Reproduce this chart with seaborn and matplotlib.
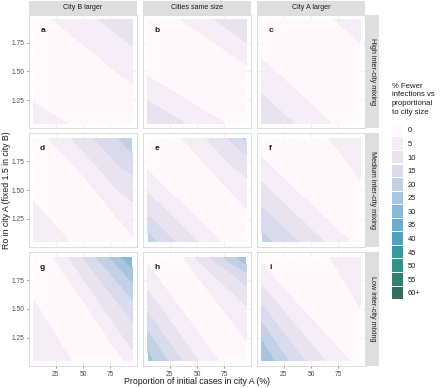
import numpy as np
import matplotlib
matplotlib.use("Agg")
import matplotlib.pyplot as plt
from matplotlib.patches import Patch
import seaborn as sns

# grid of the two model inputs
x_prop = [5, 20, 35, 50, 65, 80, 95]
y_r0 = [1.05, 1.20, 1.35, 1.50, 1.65, 1.80, 1.95]

size_labels = ["City B larger", "Cities same size", "City A larger"]
mixing_labels = ["High inter-city mixing", "Medium inter-city mixing", "Low inter-city mixing"]
panel_letters = ["a", "b", "c", "d", "e", "f", "g", "h", "i"]

band_breaks = [0, 5, 10, 15, 20, 25, 30, 35, 40, 45, 50, 55, 60]
band_labels = ["0", "5", "10", "15", "20", "25", "30", "35", "40", "45", "50", "55", "60+"]
x_ticks = [25, 50, 75]
y_ticks = [1.25, 1.50, 1.75]

# % fewer infections, rows go from y=1.05 (bottom) to y=1.95 (top)
fewer_a = [
    [7.0, 6.0, 5.0, 4.1, 3.1, 2.1, 1.1],
    [5.3, 4.3, 3.3, 2.4, 1.4, 0.4, 2.1],
    [3.7, 2.7, 1.7, 0.8, 0.9, 2.7, 4.4],
    [2.0, 1.0, 0.0, 1.5, 3.2, 5.0, 6.7],
    [0.3, 0.2, 1.9, 3.7, 5.4, 7.2, 8.9],
    [0.8, 2.5, 4.2, 6.0, 7.7, 9.5, 11.2],
    [3.1, 4.8, 6.5, 8.3, 10.0, 11.8, 13.5],
]
fewer_b = [
    [14.5, 12.5, 10.5, 8.4, 6.4, 4.4, 2.4],
    [11.0, 9.0, 7.0, 4.9, 2.9, 0.9, 0.0],
    [7.5, 5.5, 3.4, 1.4, 0.0, 0.0, 0.0],
    [3.9, 1.9, 0.0, 0.0, 0.0, 1.1, 3.6],
    [0.4, 0.0, 0.0, 0.0, 2.3, 4.8, 7.3],
    [0.0, 0.0, 1.2, 3.7, 6.1, 8.6, 11.1],
    [0.0, 2.4, 4.9, 7.4, 9.8, 12.3, 14.8],
]
fewer_c = [
    [14.2, 12.0, 9.9, 7.7, 5.5, 3.3, 1.2],
    [11.7, 9.5, 7.4, 5.2, 3.0, 0.8, 0.0],
    [9.3, 7.1, 4.9, 2.8, 0.6, 0.0, 0.0],
    [6.8, 4.6, 2.5, 0.3, 0.0, 0.0, 1.0],
    [4.3, 2.1, 0.0, 0.0, 0.0, 1.5, 3.4],
    [1.8, 0.0, 0.0, 0.0, 1.9, 3.8, 5.7],
    [0.0, 0.0, 0.3, 2.2, 4.2, 6.1, 8.0],
]
fewer_d = [
    [8.5, 6.9, 5.3, 3.7, 2.1, 0.5, 4.0],
    [7.0, 5.4, 3.8, 2.2, 0.6, 3.5, 6.6],
    [5.5, 3.9, 2.3, 0.7, 2.8, 6.5, 9.1],
    [4.0, 2.4, 0.8, 1.9, 6.0, 9.7, 11.6],
    [2.5, 0.9, 1.9, 5.5, 9.1, 13.0, 15.3],
    [1.0, 1.9, 5.4, 9.0, 12.6, 16.3, 19.5],
    [1.8, 5.4, 8.9, 12.5, 16.1, 19.6, 23.2],
]
fewer_e = [
    [23.0, 17.3, 13.8, 10.2, 6.7, 3.2, 0.0],
    [17.0, 13.5, 10.0, 6.4, 2.9, 0.0, 2.0],
    [13.2, 9.7, 6.1, 2.6, 0.0, 1.9, 5.2],
    [9.3, 5.8, 2.3, 0.0, 1.8, 5.1, 8.4],
    [5.5, 2.0, 0.0, 1.6, 5.0, 8.3, 10.6],
    [1.7, 0.0, 1.5, 4.8, 8.2, 11.5, 14.5],
    [0.0, 1.4, 4.7, 8.0, 11.4, 15.5, 21.5],
]
fewer_f = [
    [22.0, 18.9, 15.7, 12.6, 9.4, 6.3, 3.1],
    [18.5, 15.4, 12.2, 9.1, 5.9, 2.8, 1.5],
    [15.0, 11.9, 8.7, 5.6, 2.4, 1.2, 2.8],
    [11.5, 8.4, 5.2, 2.1, 0.9, 2.5, 4.1],
    [8.0, 4.9, 1.7, 0.6, 2.2, 3.8, 5.4],
    [4.5, 1.4, 0.3, 1.9, 3.5, 5.1, 6.7],
    [1.0, 0.0, 1.6, 3.2, 4.8, 6.4, 8.0],
]
fewer_g = [
    [8.5, 7.0, 5.4, 3.9, 2.4, 2.3, 7.7],
    [7.5, 6.0, 4.4, 2.9, 1.4, 6.2, 11.1],
    [6.5, 5.0, 3.4, 1.9, 4.7, 10.0, 14.0],
    [5.5, 4.0, 2.4, 3.1, 8.6, 13.1, 17.6],
    [4.5, 3.0, 1.6, 7.0, 12.1, 16.8, 21.9],
    [3.5, 2.0, 5.5, 10.9, 16.1, 21.5, 27.5],
    [2.5, 4.0, 9.5, 15.1, 21.1, 27.2, 34.0],
]
fewer_h = [
    [27.0, 21.0, 15.3, 10.3, 6.4, 2.5, 2.1],
    [23.0, 16.8, 11.5, 7.2, 3.3, 1.5, 4.5],
    [18.5, 12.7, 8.1, 4.2, 0.9, 3.9, 7.0],
    [14.0, 9.1, 5.0, 1.0, 3.3, 6.3, 9.4],
    [10.0, 5.9, 1.7, 2.2, 5.9, 9.6, 12.9],
    [6.8, 2.6, 0.3, 5.2, 10.1, 13.8, 19.0],
    [3.5, 0.0, 3.9, 10.7, 15.9, 22.4, 29.0],
]
fewer_i = [
    [29.5, 23.4, 17.7, 13.3, 9.5, 6.2, 2.9],
    [25.6, 19.2, 14.0, 9.9, 6.4, 2.9, 2.6],
    [20.8, 14.9, 10.3, 6.6, 2.9, 1.8, 3.7],
    [16.1, 11.0, 6.8, 3.0, 1.1, 3.0, 4.9],
    [11.2, 7.1, 3.0, 0.4, 2.3, 4.2, 6.1],
    [7.4, 3.0, 0.0, 1.6, 3.5, 5.4, 7.3],
    [3.2, 0.0, 0.9, 2.8, 4.7, 6.6, 8.5],
]
panels = [fewer_a, fewer_b, fewer_c, fewer_d, fewer_e, fewer_f, fewer_g, fewer_h, fewer_i]

sns.set_theme(style="white")
plt.rcParams['font.family'] = ['Liberation Sans', 'DejaVu Sans']

# PuBuGn at alpha 0.8 over white
cmap = sns.color_palette("PuBuGn", as_cmap=True)
raw = cmap(np.linspace(0, 1, len(band_labels)))
fills = [tuple(0.8 * c[:3] + 0.2) for c in raw]

W, H = 440, 388
fig = plt.figure(figsize=(W / 100, H / 100), dpi=100)


def box(x0, y0, w, h):
    return [x0 / W, 1 - (y0 + h) / H, w / W, h / H]


col_x = [29, 143, 257]
row_y = [14.5, 133.3, 252.0]
pw, ph = 108, 113.8
txt = '#1a1a1a'

for k, Z in enumerate(panels):
    r, c = divmod(k, 3)
    ax = fig.add_axes(box(col_x[c], row_y[r], pw, ph))
    ax.set_facecolor('white')
    ax.set_xlim(0.5, 99.5)
    ax.set_ylim(1.005, 1.995)
    ax.set_xticks(x_ticks)
    ax.set_xticks([12.5, 37.5, 62.5, 87.5], minor=True)
    ax.set_yticks(y_ticks)
    ax.set_yticks([1.125, 1.375, 1.625, 1.875], minor=True)
    ax.set_yticklabels(["%.2f" % v for v in y_ticks])
    ax.grid(which='major', color='#ebebeb', lw=0.5)
    ax.grid(which='minor', color='#f3f3f3', lw=0.3)
    ax.set_axisbelow(True)
    ax.contourf(x_prop, y_r0, np.array(Z), levels=band_breaks + [1000], colors=fills, zorder=1)
    ax.text(13, 1.86, panel_letters[k], ha='center', va='center', fontsize=6,
            fontweight='bold', color=txt, zorder=3)
    for s in ax.spines.values():
        s.set_color('#d3d8d8')
        s.set_linewidth(0.6)
    ax.tick_params(which='both', left=False, bottom=False, labelleft=False, labelbottom=False)
    ax.tick_params(which='major', left=(c == 0), bottom=(r == 2), labelleft=(c == 0),
                   labelbottom=(r == 2), length=1.5, width=0.4, color='#333333',
                   labelsize=4.8, labelcolor='#4d4d4d', pad=2)

    if r == 0:
        sx = fig.add_axes(box(col_x[c], 1, pw, 13.5))
        sx.set_facecolor('#dedede')
        sx.set_xticks([]); sx.set_yticks([])
        for s in sx.spines.values():
            s.set_visible(False)
        sx.text(0.5, 0.5, size_labels[c], ha='center', va='center', fontsize=5.1, color=txt)
    if c == 2:
        sy = fig.add_axes(box(366, row_y[r], 13, ph))
        sy.set_facecolor('#dedede')
        sy.set_xticks([]); sy.set_yticks([])
        for s in sy.spines.values():
            s.set_visible(False)
        sy.text(0.5, 0.5, mixing_labels[r], ha='center', va='center', rotation=-90,
                fontsize=5.2, color=txt)

fig.text(197 / W, 1 - 381.5 / H, "Proportion of initial cases in city A (%)",
         ha='center', va='center', fontsize=6.3, color=txt)
fig.text(7 / W, 1 - 190 / H, "Ro in city A (fixed 1.5 in city B)",
         ha='center', va='center', rotation=90, fontsize=6.3, color=txt)

handles = [Patch(facecolor=f, edgecolor='none') for f in fills]
leg = fig.legend(handles, band_labels, title="% Fewer\ninfections vs\nproportional\nto city size",
                 loc='upper left', bbox_to_anchor=(392 / W, 1 - 83 / H), frameon=False,
                 fontsize=5.4, title_fontsize=5.6, handlelength=1.47, handleheight=2.19,
                 labelspacing=0.14, handletextpad=0.65, borderaxespad=0, borderpad=0,
                 alignment='left')
for t in leg.get_texts():
    t.set_color(txt)
leg.get_title().set_color(txt)
leg.get_title().set_linespacing(1.3)
leg._legend_box.sep = 6

fig.savefig("out.png", dpi=100)
